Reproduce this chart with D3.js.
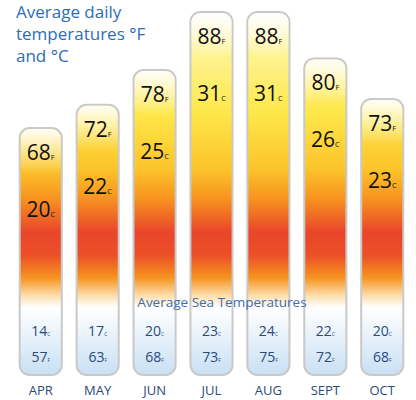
<!DOCTYPE html><html><head><script src="https://cdn.jsdelivr.net/npm/d3@7"></script>
<style>body{margin:0;background:#fff}</style></head><body><svg id="c" width="416" height="400"></svg><script>
const months=["APR","MAY","JUN","JUL","AUG","SEPT","OCT"];
const airF=[68,72,78,88,88,80,73];
const airC=[20,22,25,31,31,26,23];
const seaC=[14,17,20,23,24,22,20];
const seaF=[57,63,68,73,75,72,68];
const svg=d3.select("#c");
const x=d3.scaleBand().domain(months).range([14,409]).paddingInner(0.26).paddingOuter(0.1);
const y=d3.scaleLinear().domain([68,88]).range([128,12]);
const bottom=375;
const defs=svg.append("defs");
const g=defs.append("linearGradient").attr("id","heat").attr("gradientUnits","userSpaceOnUse").attr("x1",0).attr("x2",0).attr("y1",0).attr("y2",bottom);
[[0,"#fffbe6"],[0.1,"#fff6a8"],[0.3,"#fde84a"],[0.45,"#fcc42a"],[0.53,"#f7931f"],[0.62,"#e9452b"],[0.68,"#ec4f28"],[0.74,"#f6931e"],[0.79,"#fde0b0"],[0.82,"#ffffff"],[1,"#c8e0f4"]].forEach(([o,c])=>g.append("stop").attr("offset",o).attr("stop-color",c));
const w=defs.append("linearGradient").attr("id","fade").attr("x1",0).attr("x2",0).attr("y1",0).attr("y2",1);
w.append("stop").attr("offset",0).attr("stop-color","#fff").attr("stop-opacity",0.95);
w.append("stop").attr("offset",1).attr("stop-color","#fff").attr("stop-opacity",0);
months.forEach((m,i)=>{
  const x0=x(m),bw=x.bandwidth(),t=y(airF[i]);
  svg.append("rect").attr("x",x0).attr("y",t).attr("width",bw).attr("height",bottom-t).attr("rx",10).attr("fill","url(#heat)").attr("stroke","#c9c9c9").attr("stroke-width",2);
  svg.append("rect").attr("x",x0+1).attr("y",t+1).attr("width",bw-2).attr("height",45).attr("rx",9).attr("fill","url(#fade)");
  const cx=x0+bw/2;
  const lab=(v,u,yy,size,col)=>{const tx=svg.append("text").attr("x",cx).attr("y",yy).attr("text-anchor","middle").attr("font-family","Open Sans, sans-serif").attr("fill",col);
    tx.append("tspan").attr("font-size",size).text(v);tx.append("tspan").attr("font-size",size*0.35).text(u);};
  lab(airF[i],"F",t+32,21,"#111");
  lab(airC[i],"C",t+89,21,"#111");
  lab(seaC[i],"C",336,14,"#2a4a7a");
  lab(seaF[i],"F",362,14,"#2a4a7a");
  svg.append("text").attr("x",cx).attr("y",395).attr("text-anchor","middle").attr("font-family","Open Sans, sans-serif").attr("font-size",13).attr("fill","#2a4a7a").text(m);
});
svg.append("text").attr("x",222).attr("y",307).attr("text-anchor","middle").attr("font-family","Open Sans, sans-serif").attr("font-size",13.5).attr("fill","#3d6db5").text("Average Sea Temperatures");
const tt=svg.append("text").attr("font-family","Open Sans, sans-serif").attr("font-size",17).attr("fill","#2e6db4");
[["Average daily",18],["temperatures °F",40],["and °C",62]].forEach(([s,yy])=>tt.append("tspan").attr("x",16).attr("y",yy).text(s));
</script></body></html>
